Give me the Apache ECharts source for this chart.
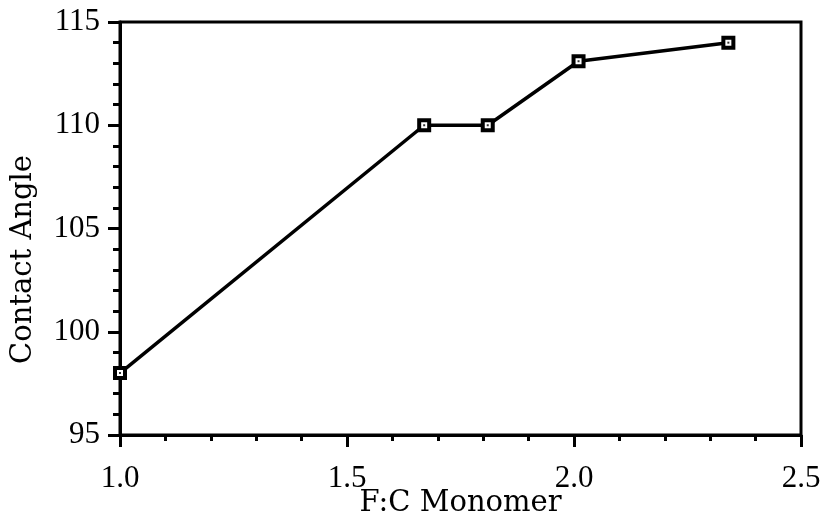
<!DOCTYPE html>
<html>
<head>
<meta charset="utf-8">
<script src="https://cdn.jsdelivr.net/npm/echarts@6/dist/echarts.min.js"></script>
<style>html,body{margin:0;padding:0;background:#fff}#c{width:823px;height:515px}</style>
</head>
<body>
<div id="c"></div>
<script>
var fcMonomer = [1.0, 1.67, 1.81, 2.01, 2.34];
var contactAngle = [98, 110, 110, 113.1, 114];
var xTickLabels = ['1.0', '1.5', '2.0', '2.5'];
var yTickLabels = ['95', '100', '105', '110', '115'];
var xName = 'F:C Monomer';
var yName = 'Contact Angle';

var points = fcMonomer.map(function (x, i) { return [x, contactAngle[i]]; });
var tickFont = 'Liberation Serif';
var nameFont = 'DejaVu Serif';

var chart = echarts.init(document.getElementById('c'), null, {renderer: 'canvas'});
chart.setOption({
  animation: false,
  backgroundColor: '#fff',
  grid: {left: 120, right: 22, top: 22, bottom: 80, containLabel: false, outerBoundsMode: 'none',
    show: true, borderColor: '#000', borderWidth: 3, backgroundColor: 'transparent'},
  xAxis: {
    type: 'value', min: 1.0, max: 2.5, interval: 0.5,
    name: xName, nameLocation: 'middle', nameGap: 54, nameMoveOverlap: false,
    nameTextStyle: {fontFamily: nameFont, fontSize: 29, color: '#000'},
    axisLine: {show: true, lineStyle: {color: '#000', width: 3}},
    axisTick: {show: true, length: 12, lineStyle: {color: '#000', width: 3}},
    minorTick: {show: true, splitNumber: 5, length: 6, lineStyle: {color: '#000', width: 3}},
    splitLine: {show: false},
    axisLabel: {margin: 28, fontFamily: tickFont, fontSize: 31, color: '#000',
      formatter: function (v) { var i = Math.round((v - 1.0) / 0.5); return xTickLabels[i]; }}
  },
  yAxis: {
    type: 'value', min: 95, max: 115, interval: 5,
    name: yName, nameLocation: 'middle', nameGap: 82, nameRotate: 90,
    nameTextStyle: {fontFamily: nameFont, fontSize: 29, color: '#000', padding: [0, 62, 0, 0]},
    axisLine: {show: true, lineStyle: {color: '#000', width: 3}},
    axisTick: {show: true, length: 12, lineStyle: {color: '#000', width: 3}},
    minorTick: {show: true, splitNumber: 5, length: 7, lineStyle: {color: '#000', width: 3}},
    splitLine: {show: false},
    axisLabel: {margin: 20, fontFamily: tickFont, fontSize: 31, color: '#000',
      formatter: function (v) { var i = Math.round((v - 95) / 5); return yTickLabels[i]; }}
  },
  series: [
    {
      type: 'line', data: points, clip: false,
      symbol: 'rect', symbolSize: 10, showSymbol: true,
      lineStyle: {color: '#000', width: 3.5},
      itemStyle: {color: '#fff', borderColor: '#000', borderWidth: 4},
      z: 5
    },
    {
      type: 'scatter', data: points, clip: false,
      symbol: 'rect', symbolSize: 2,
      itemStyle: {color: '#000'},
      z: 6
    }
  ]
});
</script>
</body>
</html>
